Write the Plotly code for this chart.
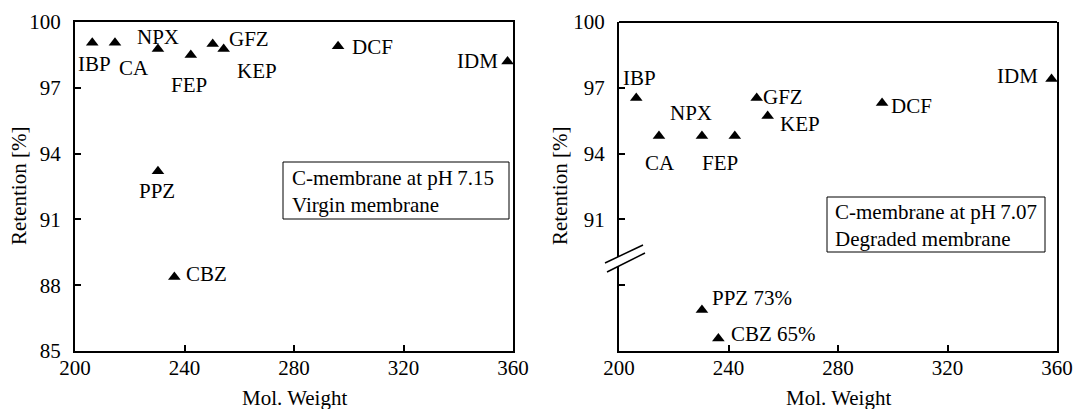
import plotly.graph_objects as go

# ---------------- data ----------------
compounds = ["IBP", "CA", "NPX", "FEP", "GFZ", "KEP", "DCF", "IDM", "PPZ", "CBZ"]
mol_weight = [206.3, 214.6, 230.3, 242.3, 250.3, 254.3, 296.1, 358.0, 230.3, 236.3]
retention_virgin = [99.05, 99.05, 98.77, 98.5, 99.0, 98.77, 98.9, 98.2, 93.2, 88.37]
retention_degraded = [96.53, 94.8, 94.8, 94.8, 96.53, 95.71, 96.31, 97.4, 73.0, 65.0]
low_compounds = ["PPZ", "CBZ"]          # plotted below the axis break (right panel)
x_ticks = [200, 240, 280, 320, 360]
y_ticks_left = [85, 88, 91, 94, 97, 100]
y_ticks_right_upper = [91, 94, 97, 100]
y_ticks_right_lower = [80]
box_left = ["C-membrane at pH\u20097.15", "Virgin membrane"]
box_right = ["C-membrane at pH\u20097.07", "Degraded membrane"]

# ---------------- layout helpers ----------------
W, H = 1078, 409
def px(x):
    return x / W
def py(y):
    return 1 - y / H

FONT = "Liberation Serif"
FS = 21

# label offsets (pixels) relative to marker
off_left = {"IBP": (2, 21), "CA": (19, 25), "NPX": (0, -12), "FEP": (-2, 30), "GFZ": (36, -5),
            "KEP": (33, 22), "DCF": (34, 1), "IDM": (-30, 0), "PPZ": (-1, 20), "CBZ": (32, -3)}
off_right = {"IBP": (3, -20), "CA": (1, 27), "NPX": (-11, -23), "FEP": (-15, 27), "GFZ": (26, -1),
             "KEP": (32, 8), "DCF": (29, 3), "IDM": (-34, -3), "PPZ": (50, -12), "CBZ": (55, -5)}

fig = go.Figure()
marker = dict(symbol="triangle-up", size=11, color="black")

# left panel
fig.add_trace(go.Scatter(x=mol_weight, y=retention_virgin, mode="markers", marker=marker,
                         xaxis="x", yaxis="y", cliponaxis=False, showlegend=False))

# right panel, upper part and lower part
up_x = [m for c, m in zip(compounds, mol_weight) if c not in low_compounds]
up_y = [r for c, r in zip(compounds, retention_degraded) if c not in low_compounds]
lo_x = [m for c, m in zip(compounds, mol_weight) if c in low_compounds]
lo_y = [r for c, r in zip(compounds, retention_degraded) if c in low_compounds]
fig.add_trace(go.Scatter(x=up_x, y=up_y, mode="markers", marker=marker,
                         xaxis="x2", yaxis="y3", cliponaxis=False, showlegend=False))
fig.add_trace(go.Scatter(x=lo_x, y=lo_y, mode="markers", marker=marker,
                         xaxis="x2", yaxis="y2", cliponaxis=False, showlegend=False))

txt_font = dict(family=FONT, size=FS, color="black")
annotations = []
for c, m, r in zip(compounds, mol_weight, retention_virgin):
    dx, dy = off_left[c]
    annotations.append(dict(x=m, y=r, xref="x", yref="y", text=c, showarrow=False,
                            xanchor="center", yanchor="middle",
                            xshift=dx, yshift=-dy, font=txt_font))
for c, m, r in zip(compounds, mol_weight, retention_degraded):
    dx, dy = off_right[c]
    low = c in low_compounds
    txt = f"{c} {r:.0f}%" if low else c
    annotations.append(dict(x=m, y=r, xref="x2", yref="y2" if low else "y3", text=txt,
                            showarrow=False, xanchor="center", yanchor="middle",
                            xshift=dx, yshift=-dy, font=txt_font))

# condition boxes: frame + text
boxes = [(box_left, (283, 509, 162, 219), 290), (box_right, (827, 1045, 197, 252), 833)]
shapes = []
for lines, (x0, x1, y0, y1), tx in boxes:
    shapes.append(dict(type="rect", xref="paper", yref="paper", x0=px(x0), x1=px(x1),
                       y0=py(y1), y1=py(y0), line=dict(color="black", width=1),
                       fillcolor="white", layer="below"))
    annotations.append(dict(x=px(tx), y=py((y0 + y1) / 2 + 1), xref="paper", yref="paper",
                            xanchor="left", yanchor="middle", align="left",
                            text="<br>".join(lines), showarrow=False, font=txt_font))

# axis titles
for xc in (294, 838):
    annotations.append(dict(x=px(xc), y=py(398), xref="paper", yref="paper", text="Mol. Weight",
                            xanchor="center", yanchor="middle", showarrow=False, font=txt_font))
for xc in (19, 560):
    annotations.append(dict(x=px(xc), y=py(186), xref="paper", yref="paper", text="Retention [%]",
                            textangle=-90, xanchor="center", yanchor="middle", showarrow=False,
                            font=txt_font))

axis_common = dict(showline=True, linecolor="black", linewidth=2, ticks="inside", ticklen=6,
                   tickwidth=1.5, tickcolor="black", showgrid=False, zeroline=False,
                   automargin=False, tickfont=txt_font)

plot_top, plot_bot = 22, 351
brk = 260

shapes += [
    # top border of right panel
    dict(type="line", xref="paper", yref="paper", x0=px(619), x1=px(1057), y0=py(plot_top),
         y1=py(plot_top), line=dict(color="black", width=2)),
    # white gap in the axis at the break
    dict(type="path", xref="paper", yref="paper",
         path=f"M{px(612)},{py(259.8)} L{px(626)},{py(253.2)} L{px(626)},{py(263.0)} L{px(612)},{py(269.6)} Z",
         fillcolor="white", line=dict(width=0), layer="above"),
    # break marks
    dict(type="line", xref="paper", yref="paper", x0=px(605), y0=py(263), x1=px(643), y1=py(245),
         line=dict(color="black", width=1.5), layer="above"),
    dict(type="line", xref="paper", yref="paper", x0=px(607), y0=py(272), x1=px(645), y1=py(253),
         line=dict(color="black", width=1.5), layer="above"),
]

fig.update_layout(
    template="none",
    width=W, height=H, margin=dict(l=0, r=0, t=0, b=0, autoexpand=False),
    paper_bgcolor="white", plot_bgcolor="rgba(0,0,0,0)",
    font=txt_font,
    xaxis=dict(domain=[px(75), px(513)], range=[200, 360], tickvals=x_ticks, anchor="y",
               mirror=True, ticklabelstandoff=-3, **axis_common),
    yaxis=dict(domain=[py(plot_bot), py(plot_top)], range=[85, 100], tickvals=y_ticks_left,
               anchor="x", mirror=True, ticklabelstandoff=8, **axis_common),
    xaxis2=dict(domain=[px(619), px(1057)], range=[200, 360], tickvals=x_ticks, anchor="y2",
                ticklabelstandoff=-3, **axis_common),
    yaxis2=dict(domain=[py(plot_bot), py(brk)], range=[61.5, 61.5 + (plot_bot - brk) / 3.56],
                tickvals=y_ticks_right_lower, ticktext=[""], anchor="x2", mirror=True, **axis_common),
    yaxis3=dict(domain=[py(brk), py(plot_top)], range=[100 - (brk - plot_top) / 21.93, 100],
                tickvals=y_ticks_right_upper, anchor="x2", mirror=True, ticklabelstandoff=8,
                **axis_common),
    annotations=annotations,
    shapes=shapes,
)

fig.write_html("out.html")
